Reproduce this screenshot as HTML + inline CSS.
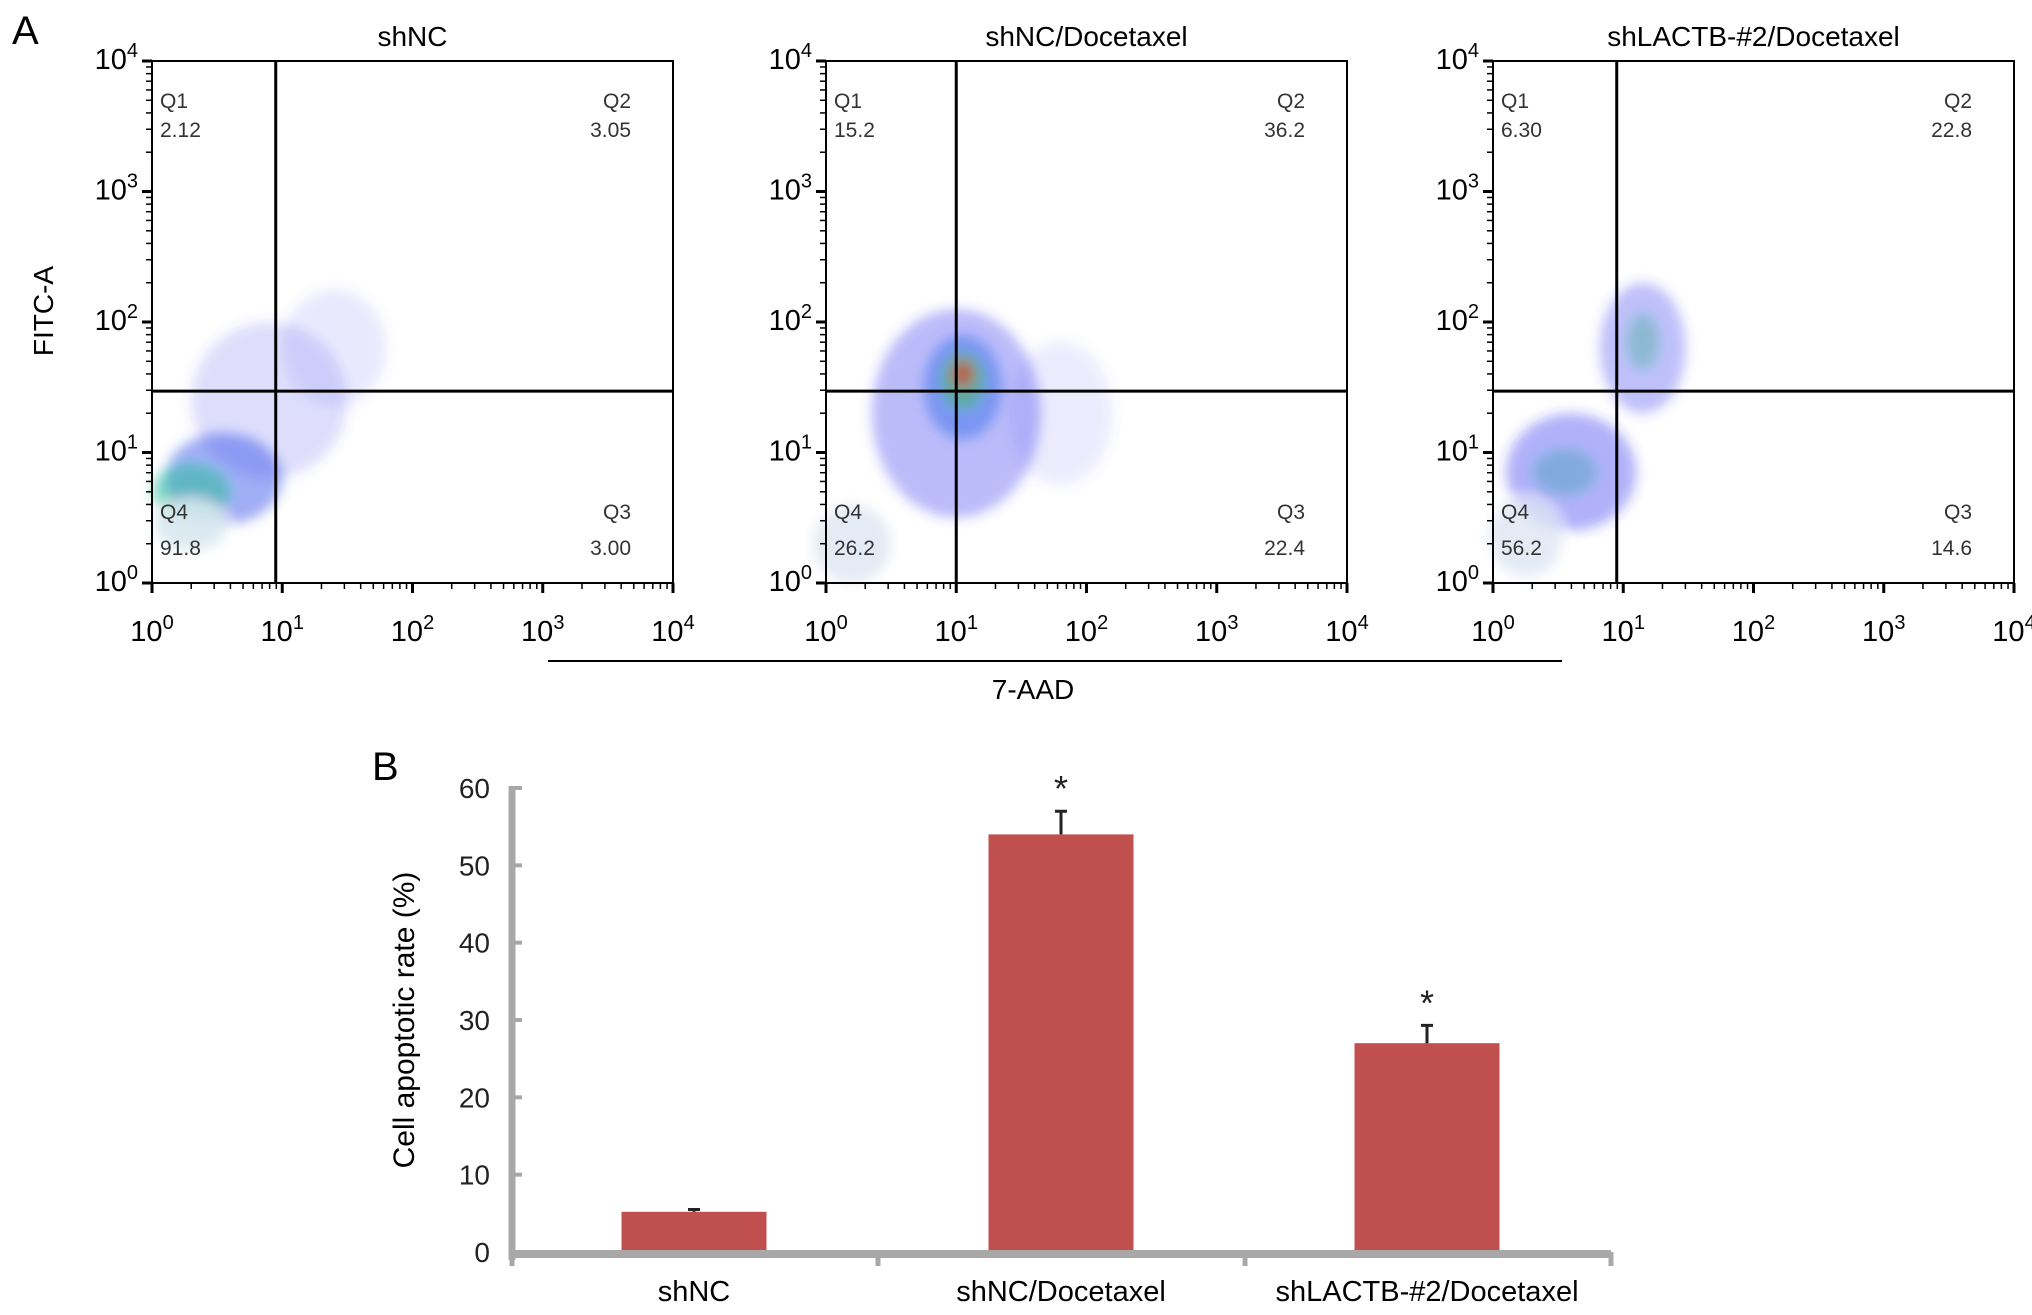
<!DOCTYPE html>
<html><head><meta charset="utf-8"><style>
body{margin:0;background:#fff}
svg{display:block;font-family:"Liberation Sans",sans-serif}
</style></head><body>
<svg id="fig" width="2032" height="1315" viewBox="0 0 2032 1315">
<defs>
<filter id="blur" x="-50%" y="-50%" width="200%" height="200%"><feGaussianBlur stdDeviation="6"/></filter>
</defs>
<text x="12" y="44" font-size="40">A</text>
<text x="372" y="780" font-size="40">B</text>
<text x="0" y="0" font-size="28" transform="translate(53,311) rotate(-90)" text-anchor="middle">FITC-A</text>
<line x1="548" y1="661" x2="1562" y2="661" stroke="#000" stroke-width="2"/>
<text x="1033" y="699" font-size="28" text-anchor="middle">7-AAD</text>
<g id="flow"></g>
<g id="bars"></g>
</svg>
<script>
// ---------- Flow cytometry panel data ----------
const panelTitles = ["shNC", "shNC/Docetaxel", "shLACTB-#2/Docetaxel"];
const gateX = [0.95, 1.0, 0.95];   // log10 of vertical gate
const gateY = [1.47, 1.47, 1.47];  // log10 of horizontal gate
const q1Vals = ["2.12", "15.2", "6.30"];
const q2Vals = ["3.05", "36.2", "22.8"];
const q3Vals = ["3.00", "22.4", "14.6"];
const q4Vals = ["91.8", "26.2", "56.2"];
const decadeTicks = [0, 1, 2, 3, 4];
// clusters per panel: [logX, logY, radiusX(decades), radiusY(decades), color, opacity]
const clusters1 = [[0.9,1.4,0.6,0.6,"#5050f0",0.18],[1.4,1.8,0.4,0.45,"#6a6af5",0.15],[0.55,0.8,0.45,0.35,"#2a4ae8",0.45],[0.3,0.7,0.3,0.22,"#2cc0a0",0.55],[0.3,0.45,0.28,0.2,"#d8e8f0",0.9]];
const clusters2 = [[1.0,1.3,0.65,0.8,"#3a3af0",0.35],[1.05,1.5,0.3,0.4,"#2a6ae8",0.45],[1.05,1.55,0.17,0.22,"#40c060",0.55],[1.05,1.6,0.08,0.1,"#e04020",0.7],[0.2,0.3,0.3,0.3,"#dde6f2",0.8],[1.8,1.3,0.4,0.55,"#6060f5",0.12]];
const clusters3 = [[0.6,0.85,0.5,0.45,"#3030f0",0.38],[0.55,0.85,0.25,0.18,"#30a0b0",0.35],[1.15,1.8,0.33,0.5,"#3a3af0",0.33],[1.15,1.85,0.13,0.22,"#30b090",0.35],[0.25,0.35,0.28,0.3,"#dde6f2",0.8]];
const panelClusters = [clusters1, clusters2, clusters3];

const NS = "http://www.w3.org/2000/svg";
function mk(tag, attrs, parent){const e=document.createElementNS(NS,tag);for(const k in attrs)e.setAttribute(k,attrs[k]);parent.appendChild(e);return e;}
const flow = document.getElementById("flow");
const boxL = [152, 826, 1493], boxW = 521, boxT = 61, boxB = 583;
for (let p=0;p<3;p++){
  const L=boxL[p], R=L+boxW;
  const sx = v => L + v/4*boxW;
  const sy = v => boxB - v/4*(boxB-boxT);
  const g = mk("g",{},flow);
  
  
  const t = mk("text",{x:(L+R)/2,y:46,"font-size":28,"text-anchor":"middle"},g);
  t.textContent = panelTitles[p];
  
  
  const cg = mk("g",{filter:"url(#blur)"},g);
  panelClusters[p].forEach(c=>{
    const e = mk("ellipse",{cx:sx(c[0]),cy:sy(c[1]),rx:c[2]/4*boxW,ry:c[3]/4*(boxB-boxT),fill:c[4],opacity:c[5]},cg);
    
    
  });
  const box = mk("rect",{x:L,y:boxT,width:boxW,height:boxB-boxT,fill:"none",stroke:"#000","stroke-width":2},g);
  
  
  const vx = sx(gateX[p]), hy = sy(gateY[p]);
  const gv = mk("line",{x1:vx,y1:boxT,x2:vx,y2:boxB,stroke:"#000","stroke-width":3},g);
  
  
  const gh = mk("line",{x1:L,y1:hy,x2:R,y2:hy,stroke:"#000","stroke-width":3},g);
  
  
  decadeTicks.forEach(d=>{
    mk("line",{x1:sx(d),y1:boxB,x2:sx(d),y2:boxB+10,stroke:"#000","stroke-width":3},g);
    mk("line",{x1:L-10,y1:sy(d),x2:L,y2:sy(d),stroke:"#000","stroke-width":3},g);
    if(d<4){for(let m=2;m<10;m++){const o=Math.log10(m);
      mk("line",{x1:sx(d+o),y1:boxB,x2:sx(d+o),y2:boxB+6,stroke:"#000","stroke-width":1.5},g);
      mk("line",{x1:L-6,y1:sy(d+o),x2:L,y2:sy(d+o),stroke:"#000","stroke-width":1.5},g);}}
    const xl = mk("text",{x:sx(d),y:641,"font-size":29,"text-anchor":"middle"},g);
    xl.innerHTML = '10<tspan dy="-12" font-size="20">'+d+'</tspan>';
    
    
    const yl = mk("text",{x:L-14,y:sy(d)+8,"font-size":29,"text-anchor":"end"},g);
    yl.innerHTML = '10<tspan dy="-12" font-size="20">'+d+'</tspan>';
    
    
  });
  const q = [["Q1",q1Vals[p],L+8,"start",108,137],["Q2",q2Vals[p],R-42,"end",108,137],["Q3",q3Vals[p],R-42,"end",519,555],["Q4",q4Vals[p],L+8,"start",519,555]];
  q.forEach(a=>{
    const n = mk("text",{x:a[2],y:a[4],"font-size":21,fill:"#333","text-anchor":a[3]},g);
    n.textContent=a[0];
    
    
    const v = mk("text",{x:a[2],y:a[5],"font-size":21,fill:"#333","text-anchor":a[3]},g);
    v.textContent=a[1];
    
    
  });
}

// ---------- Bar chart data ----------
const categories = ["shNC", "shNC/Docetaxel", "shLACTB-#2/Docetaxel"];
const rates = [5.2, 54, 27];
const errs = [0.3, 3, 2.3];
const sig = [false, true, true];
const yTicks = [0,10,20,30,40,50,60];

const bars = document.getElementById("bars");
const y0px = 1252, y60px = 788, axL = 512, axR = 1611;
const yS = v => y0px - v/60*(y0px-y60px);
const barCenters = [694, 1061, 1427]; const barW = 145;
const ya = mk("line",{x1:axL,y1:yS(60)-2,x2:axL,y2:y0px+8,stroke:"#a8a8a8","stroke-width":7},bars);


yTicks.forEach(v=>{
  mk("line",{x1:axL,y1:yS(v),x2:axL+10,y2:yS(v),stroke:"#a8a8a8","stroke-width":4},bars);
  const l = mk("text",{x:490,y:yS(v)+10,"font-size":28,"text-anchor":"end",fill:"#222"},bars);
  l.textContent=v;
  
  
});
const yt = mk("text",{x:0,y:0,"font-size":30,"text-anchor":"middle",transform:"translate(414,1020) rotate(-90)"},bars);
yt.textContent="Cell apoptotic rate (%)";


categories.forEach((c,i)=>{
  const cx = barCenters[i];
  const r = mk("rect",{x:cx-barW/2,y:yS(rates[i]),width:barW,height:y0px-yS(rates[i]),fill:"#c0504d"},bars);
  
  
  const top = yS(rates[i]+errs[i]);
  const e = mk("path",{d:`M${cx} ${yS(rates[i])} V${top} M${cx-6} ${top} H${cx+6}`,stroke:"#222","stroke-width":3,fill:"none"},bars);
  
  
  if(sig[i]){const s = mk("text",{x:cx,y:top-10,"font-size":36,"text-anchor":"middle",fill:"#222"},bars);
    s.textContent="*";
    
    }
  const l = mk("text",{x:cx,y:1301,"font-size":29,"text-anchor":"middle"},bars);
  l.textContent=c;
  
  
});
const xa = mk("line",{x1:axL,y1:y0px+2,x2:axR,y2:y0px+2,stroke:"#a8a8a8","stroke-width":8},bars);


[axL, 878, 1245, axR].forEach(x=>{mk("line",{x1:x,y1:y0px,x2:x,y2:y0px+14,stroke:"#a8a8a8","stroke-width":5},bars);});
</script>
</body></html>
